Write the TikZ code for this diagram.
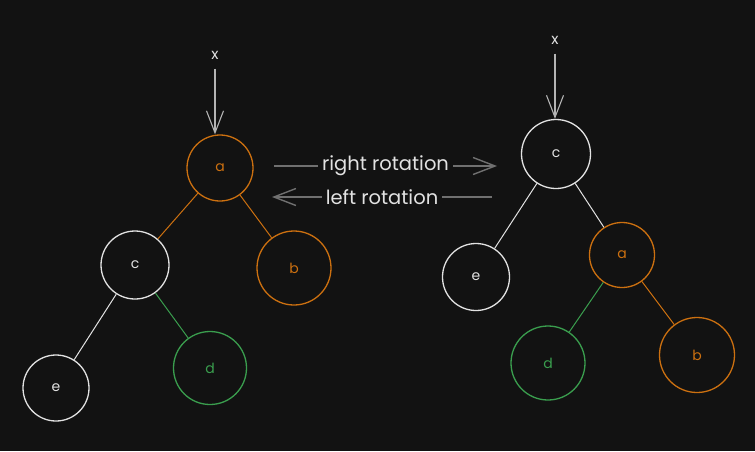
\documentclass[tikz,border=0pt]{standalone}
\usepackage{fontspec}
\setmainfont{Poppins}
\usepackage{tikz}
\usetikzlibrary{positioning, arrows.meta}

\definecolor{bgcol}{HTML}{121212}
\definecolor{chalk}{HTML}{E2E2E2}
\definecolor{pencil}{HTML}{B4B4B4}
\definecolor{dimgrey}{HTML}{707070}
\definecolor{amber}{RGB}{204,112,16}
\definecolor{leaf}{RGB}{58,158,78}

\begin{document}
\begin{tikzpicture}[
    x=1pt, y=-1pt,
    >={Straight Barb[length=22pt, width=17pt]}, % long open arrow head like the sketch
    font=\fontsize{14}{16}\selectfont,
    treenode/.style={
        circle,
        draw=chalk,
        text=chalk,
        line width=1.3pt,
        inner sep=0pt
    },
    orangenode/.style={treenode, draw=amber, text=amber},
    greennode/.style={treenode, draw=leaf, text=leaf},
    edge/.style={draw=chalk, line width=1pt},
    pointer/.style={draw=pencil, line width=1.1pt, ->},
    rotarrow/.style={draw=dimgrey, line width=1.4pt, ->},
    rotlabel/.style={
        fill=bgcol,
        text=chalk,
        inner xsep=4pt,
        font=\fontsize{19.5}{22}\selectfont
    }
]

    % Background and page size
    \fill[bgcol] (0,0) rectangle (755,451);
    \useasboundingbox (0,0) rectangle (755,451);

    % =======================================================
    % LEFT TREE (before right rotation)
    % =======================================================
    \node[text=chalk, font=\fontsize{15}{17}\selectfont] (xL) at (215,55) {x};

    \node[orangenode, minimum size=66pt] (aL) at (220,168) {a};
    \node[treenode, minimum size=68pt] (cL) at (135,265) {c};
    \node[orangenode, minimum size=74pt] (bL) at (294,268) {b};
    \node[treenode, minimum size=66pt] (eL) at (56,388) {e};
    \node[greennode, minimum size=73pt] (dL) at (210,368) {d};

    % Pointer into the root
    \draw[pointer] ([yshift=-6pt]xL.south) -- (xL.south |- aL.north);

    % Edges
    \draw[edge, draw=amber] (aL) -- (cL);
    \draw[edge, draw=amber] (aL) -- (bL);
    \draw[edge] (cL) -- (eL);
    \draw[edge, draw=leaf] (cL) -- (dL);

    % =======================================================
    % ROTATION ARROWS
    % =======================================================
    \coordinate (rightFrom) at (274,166);
    \coordinate (rightTo) at (497,166);
    \coordinate (leftFrom) at (492,197);
    \coordinate (leftTo) at (272,197);

    \draw[rotarrow] (rightFrom) -- node[rotlabel] (rightTxt) {right rotation} (rightTo);
    \draw[rotarrow] (leftFrom) -- node[rotlabel] (leftTxt) {left rotation} (leftTo);

    % =======================================================
    % RIGHT TREE (after right rotation)
    % =======================================================
    \node[text=chalk, font=\fontsize{15}{17}\selectfont] (xR) at (555,40) {x};

    \node[treenode, minimum size=69pt] (cR) at (556,154) {c};
    \node[treenode, minimum size=67pt] (eR) at (476,277) {e};
    \node[orangenode, minimum size=65pt] (aR) at (622,255) {a};
    \node[greennode, minimum size=74pt] (dR) at (548,363) {d};
    \node[orangenode, minimum size=75pt] (bR) at (697,355) {b};

    % Pointer into the root
    \draw[pointer] ([yshift=-6pt]xR.south) -- (xR.south |- cR.north);

    % Edges
    \draw[edge] (cR) -- (eR);
    \draw[edge] (cR) -- (aR);
    \draw[edge, draw=leaf] (aR) -- (dR);
    \draw[edge, draw=amber] (aR) -- (bR);

\end{tikzpicture}
\end{document}
